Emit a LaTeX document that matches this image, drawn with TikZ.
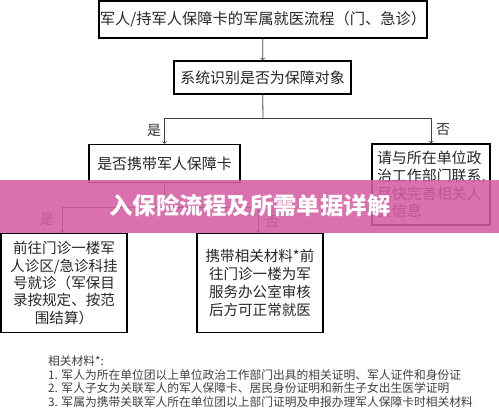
\documentclass[tikz,border=0pt]{standalone}
\usepackage{fontspec}
\newfontfamily\cjk{Noto Sans CJK SC}
\begin{document}
\begin{tikzpicture}[x=1bp,y=-1bp]
	\useasboundingbox (0,0) rectangle (499,414);
	\tikzstyle{box}=[draw=black, line width=1.3bp, inner sep=0pt, align=center, text=black!85, font=\cjk\fontsize{15}{17.8}\selectfont]
	\tikzstyle{tag}=[inner sep=0pt, text=black!80, font=\cjk\fontsize{14}{16}\selectfont]
	\tikzstyle{link}=[draw=black!75, line width=0.8bp]
	
	\node[box, minimum width=328bp, minimum height=37bp, font=\cjk\fontsize{15.3}{18}\selectfont] (title) at (263,19.5) {军人/持军人保障卡的军属就医流程（门、急诊）};
	\node[box, minimum width=177bp, minimum height=33bp] (sys) at (262.5,77.5) {系统识别是否为保障对象};
	\node[box, minimum width=151bp, minimum height=38bp] (card) at (164.5,163.5) {是否携带军人保障卡};
	\node[box, minimum width=118bp, minimum height=81bp, align=left, text width=108bp] (contact) at (431,184.5) {请与所在单位政\\治工作部门联系,\\尽快完善相关人\\员信息};
	\node[box, minimum width=126bp, minimum height=99bp, font=\cjk\fontsize{14.6}{17.5}\selectfont] (clinic) at (64,283) {前往门诊一楼军\\人诊区/急诊科挂\\号就诊（军保目\\录按规定、按范\\围结算）};
	\node[box, minimum width=126bp, minimum height=99bp, font=\cjk\fontsize{14.6}{18}\selectfont] (office) at (260,283) {携带相关材料*前\\往门诊一楼为军\\服务办公室审核\\后方可正常就医};
	
	\coordinate (split1) at (263,118);
	\coordinate (split2) at (164.5,207);
	\begin{scope}[link, ->, >=to]
		\draw	(title) -- (sys);
		\draw[-]	(sys) -- (split1);
		\draw	(split1) -| (card.north);
		\draw	(split1) -| (contact.north);
		\draw[-]	(card) -- (split2);
		\draw	(split2) -| (clinic.north -| 62,0);
		\draw	(split2) -| (office.north -| 258,0);
	\end{scope}
	
	\node[tag] (yes1) at (154,130) {是};
	\node[tag] (no1) at (443,130) {否};
	\node[tag] (yes2) at (47,219) {是};
	\node[tag] (no2) at (272,222) {否};
	
	% notes
	\node[anchor=north west, align=left, inner sep=0pt, text=black!75, font=\cjk\fontsize{11.8}{13.7}\selectfont] (notes) at (48,355.5) {相关材料*:\\1. 军人为所在单位团以上单位政治工作部门出具的相关证明、军人证件和身份证\\2. 军人子女为关联军人的军人保障卡、居民身份证明和新生子女出生医学证明\\3. 军属为携带关联军人所在单位团以上部门证明及申报办理军人保障卡时相关材料};
	
	% banner
	\fill[fill={rgb,255:red,213;green,92;blue,162}, fill opacity=0.88] (0,180) rectangle (499,233);
	\node[text=white, inner sep=0pt, font=\cjk\bfseries\fontsize{23.5}{26}\selectfont] (banner) at (250,206) {入保险流程及所需单据详解};
\end{tikzpicture}
\end{document}
